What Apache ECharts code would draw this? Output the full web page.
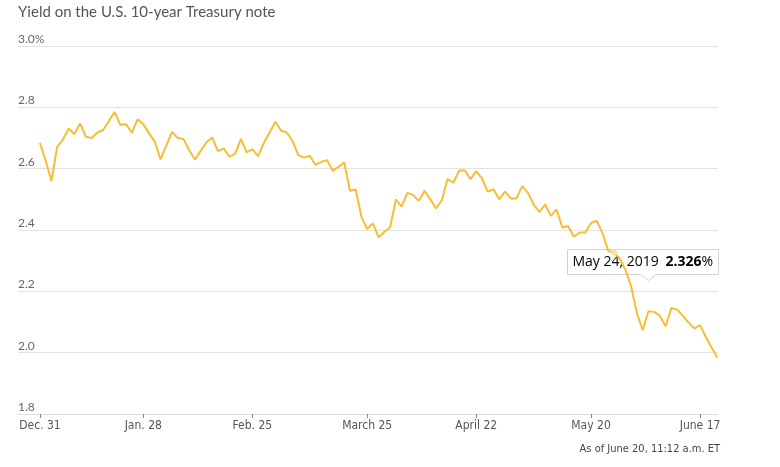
<!DOCTYPE html>
<html>
<head>
<meta charset="utf-8">
<script src="https://cdn.jsdelivr.net/npm/echarts@6/dist/echarts.min.js"></script>
<style>
  html, body { margin: 0; padding: 0; background: #fff; }
  #chart { width: 780px; height: 467px; }
</style>
</head>
<body>
<div id="chart"></div>
<script>
// trading days, Dec 31 2018 - June 20 2019
var dates = [
  '2018-12-31',
  '2019-01-02', '2019-01-03', '2019-01-04', '2019-01-07', '2019-01-08', '2019-01-09', '2019-01-10', '2019-01-11',
  '2019-01-14', '2019-01-15', '2019-01-16', '2019-01-17', '2019-01-18', '2019-01-22', '2019-01-23', '2019-01-24',
  '2019-01-25', '2019-01-28', '2019-01-29', '2019-01-30', '2019-01-31', '2019-02-01', '2019-02-04', '2019-02-05',
  '2019-02-06', '2019-02-07', '2019-02-08', '2019-02-11', '2019-02-12', '2019-02-13', '2019-02-14', '2019-02-15',
  '2019-02-19', '2019-02-20', '2019-02-21', '2019-02-22', '2019-02-25', '2019-02-26', '2019-02-27', '2019-02-28',
  '2019-03-01', '2019-03-04', '2019-03-05', '2019-03-06', '2019-03-07', '2019-03-08', '2019-03-11', '2019-03-12',
  '2019-03-13', '2019-03-14', '2019-03-15', '2019-03-18', '2019-03-19', '2019-03-20', '2019-03-21', '2019-03-22',
  '2019-03-25', '2019-03-26', '2019-03-27', '2019-03-28', '2019-03-29', '2019-04-01', '2019-04-02', '2019-04-03',
  '2019-04-04', '2019-04-05', '2019-04-08', '2019-04-09', '2019-04-10', '2019-04-11', '2019-04-12', '2019-04-15',
  '2019-04-16', '2019-04-17', '2019-04-18', '2019-04-22', '2019-04-23', '2019-04-24', '2019-04-25', '2019-04-26',
  '2019-04-29', '2019-04-30', '2019-05-01', '2019-05-02', '2019-05-03', '2019-05-06', '2019-05-07', '2019-05-08',
  '2019-05-09', '2019-05-10', '2019-05-13', '2019-05-14', '2019-05-15', '2019-05-16', '2019-05-17', '2019-05-20',
  '2019-05-21', '2019-05-22', '2019-05-23', '2019-05-24', '2019-05-28', '2019-05-29', '2019-05-30', '2019-05-31',
  '2019-06-03', '2019-06-04', '2019-06-05', '2019-06-06', '2019-06-07', '2019-06-10', '2019-06-11', '2019-06-12',
  '2019-06-13', '2019-06-14', '2019-06-17', '2019-06-18', '2019-06-19', '2019-06-20'
];

var yields = [
  2.684,
  2.625, 2.560, 2.671, 2.695, 2.731, 2.713, 2.747, 2.704,
  2.700, 2.718, 2.726, 2.755, 2.785, 2.743, 2.745, 2.717,
  2.761, 2.745, 2.715, 2.688, 2.630, 2.675, 2.720, 2.700,
  2.697, 2.660, 2.630, 2.658, 2.686, 2.702, 2.657, 2.666,
  2.639, 2.648, 2.697, 2.653, 2.664, 2.641, 2.684, 2.718,
  2.753, 2.724, 2.718, 2.690, 2.644, 2.636, 2.642, 2.612,
  2.622, 2.628, 2.593, 2.606, 2.620, 2.528, 2.532, 2.443,
  2.403, 2.421, 2.376, 2.394, 2.408, 2.500, 2.476, 2.521,
  2.514, 2.495, 2.528, 2.500, 2.470, 2.497, 2.566, 2.554,
  2.593, 2.595, 2.566, 2.592, 2.568, 2.525, 2.533, 2.500,
  2.525, 2.503, 2.503, 2.543, 2.521, 2.483, 2.459, 2.483,
  2.446, 2.467, 2.408, 2.413, 2.378, 2.392, 2.392, 2.423,
  2.430, 2.390, 2.332, 2.326, 2.307, 2.270, 2.215, 2.128,
  2.073, 2.135, 2.133, 2.120, 2.086, 2.146, 2.141, 2.120,
  2.098, 2.079, 2.090, 2.051, 2.017, 1.984
];

var tickDates = ['2018-12-31', '2019-01-28', '2019-02-25', '2019-03-25', '2019-04-22', '2019-05-20', '2019-06-17'];
var tickLabels = ['Dec. 31', 'Jan. 28', 'Feb. 25', 'March 25', 'April 22', 'May 20', 'June 17'];

var yTicks = [1.8, 2.0, 2.2, 2.4, 2.6, 2.8, 3.0];
var yTickLabels = ['1.8', '2.0', '2.2', '2.4', '2.6', '2.8', '3.0%'];

var hoverIndex = dates.indexOf('2019-05-24');

var months = ['Jan', 'Feb', 'March', 'April', 'May', 'June', 'July', 'Aug', 'Sept', 'Oct', 'Nov', 'Dec'];
function longDate(s) {
  var p = s.split('-');
  return months[+p[1] - 1] + ' ' + (+p[2]) + ', ' + p[0];
}

var narrow = '"Liberation Sans Narrow", "Arial Narrow", "DejaVu Sans Condensed", Roboto, sans-serif';

var tickIdx = tickDates.map(function (d) { return dates.indexOf(d); });
var points = dates.map(function (d, i) { return [i, yields[i]]; });

var myChart = echarts.init(document.getElementById('chart'));

var option = {
  animation: false,
  backgroundColor: '#fff',
  grid: { left: 18, right: 62, top: 46, bottom: 53 },
  xAxis: {
    type: 'value',
    min: -3.83,
    max: 118.12,
    splitLine: { show: false },
    axisLine: { show: true, onZero: false, lineStyle: { color: '#dcdcdc', width: 1 } },
    axisTick: {
      show: true,
      customValues: tickIdx,
      length: 4,
      lineStyle: { color: '#888' }
    },
    axisLabel: {
      customValues: tickIdx,
      margin: 6,
      fontFamily: narrow,
      fontSize: 12,
      color: '#555',
      formatter: function (v) {
        var k = tickIdx.indexOf(Math.round(v));
        return k >= 0 ? tickLabels[k] : '';
      }
    }
  },
  yAxis: {
    type: 'value',
    min: 1.8,
    max: 3.0,
    interval: 0.2,
    axisLine: { show: false },
    axisTick: { show: false },
    splitLine: { lineStyle: { color: '#e3e3e3', width: 1 } },
    axisLabel: {
      inside: true,
      margin: 0,
      verticalAlign: 'bottom',
      padding: [0, 0, 1, 0],
      fontFamily: 'Lato',
      fontSize: 12,
      color: '#666',
      formatter: function (v) {
        var k = yTicks.findIndex(function (t) { return Math.abs(t - v) < 1e-6; });
        return k >= 0 ? yTickLabels[k] : '';
      }
    }
  },
  series: [{
    type: 'line',
    data: points,
    showSymbol: false,
    lineStyle: { color: '#f6bf33', width: 2 },
    markPoint: {
      symbol: 'circle',
      symbolSize: 6,
      itemStyle: { color: '#fbe2a4' },
      label: { show: false },
      data: [{ coord: [hoverIndex, yields[hoverIndex]] }]
    }
  }],
  graphic: [
    {
      type: 'text',
      left: 18,
      top: 5,
      style: {
        text: 'Yield on the U.S. 10-year Treasury note',
        font: '15px Lato',
        fill: '#555'
      }
    },
    {
      type: 'text',
      right: 60,
      top: 444,
      style: {
        text: 'As of June 20, 11:12 a.m. ET',
        font: '11px ' + narrow,
        fill: '#444'
      }
    },
    {
      type: 'group',
      left: 567,
      top: 249,
      children: [
        {
          type: 'rect',
          shape: { x: 0, y: 0, width: 151, height: 25 },
          style: { fill: '#fff', stroke: '#d4d4d4', lineWidth: 1 }
        },
        {
          type: 'polygon',
          shape: { points: [[73, 25], [81, 31], [89, 25]] },
          style: { fill: '#fff', stroke: '#d4d4d4', lineWidth: 1 }
        },
        {
          type: 'rect',
          shape: { x: 74, y: 24, width: 14, height: 1.5 },
          style: { fill: '#fff' }
        },
        {
          type: 'text',
          x: 5,
          y: 13,
          style: {
            text: '{d|' + longDate(dates[hoverIndex]) + '}  {v|' + yields[hoverIndex].toFixed(3) + '}{p|%}',
            verticalAlign: 'middle',
            rich: {
              d: { fontFamily: 'Open Sans', fontSize: 14, color: '#555' },
              v: { fontFamily: 'Open Sans', fontSize: 14, fontWeight: 'bold', color: '#222' },
              p: { fontFamily: 'Open Sans', fontSize: 14, color: '#444' }
            }
          }
        }
      ]
    }
  ]
};

myChart.setOption(option);
</script>
</body>
</html>
